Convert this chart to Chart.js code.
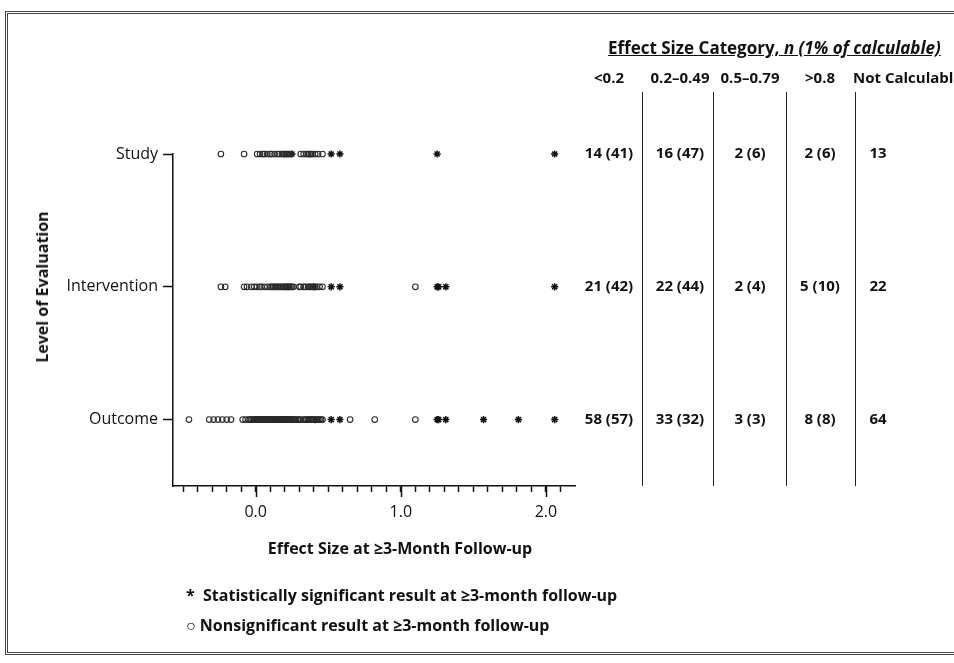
<!DOCTYPE html>
<html>
<head>
<meta charset="utf-8">
<script src="https://cdn.jsdelivr.net/npm/chart.js@4"></script>
<style>
  html, body { margin: 0; padding: 0; background: #fff; }
  body { width: 954px; height: 663px; position: relative; overflow: hidden; font-family: "Open Sans", sans-serif; color: #111; }
  #frame { position: absolute; left: 5px; top: 11px; width: 970px; height: 644px; border: 3px double #444; box-sizing: border-box; }
  #c { position: absolute; left: 0; top: 0; }
  .t { position: absolute; white-space: nowrap; font-weight: bold; font-size: 15px; line-height: 18px; }
  .vline { position: absolute; width: 0; border-left: 1.5px solid #222; }
</style>
</head>
<body>
<div id="frame"></div>
<canvas id="c" width="954" height="663"></canvas>
<div id="overlay"></div>
<script>
// rows on the y axis (1 = Outcome, 2 = Intervention, 3 = Study)
const levels = ['Outcome', 'Intervention', 'Study'];

// effect sizes
const studySig = [0.25, 0.52, 0.58, 1.25, 2.06];
const studyNonsig = [-0.24, -0.08, 0.01, 0.03, 0.05, 0.06, 0.08, 0.10, 0.11, 0.13, 0.15, 0.16, 0.18, 0.19,
  0.20, 0.21, 0.22, 0.23, 0.24, 0.31, 0.33, 0.35, 0.36, 0.37, 0.38, 0.39, 0.41, 0.43, 0.46];

const interventionSig = [0.40, 0.52, 0.58, 1.25, 1.26, 1.31, 2.06];
const interventionNonsig = [-0.24, -0.21, -0.08, -0.06, -0.03, -0.01, 0.01, 0.03, 0.04, 0.06, 0.08, 0.10, 0.11,
  0.12, 0.13, 0.14, 0.15, 0.16, 0.17, 0.18, 0.19,
  0.20, 0.21, 0.21, 0.22, 0.23, 0.23, 0.24, 0.25, 0.26, 0.30, 0.31, 0.33, 0.34, 0.36, 0.37, 0.38, 0.39,
  0.41, 0.42, 0.44, 0.46, 1.10];

const outcomeSig = [0.41, 0.52, 0.58, 1.25, 1.26, 1.31, 1.57, 1.81, 2.06];
const outcomeNonsig = [-0.46, -0.32, -0.29, -0.26, -0.23, -0.20, -0.17,
  -0.09, -0.07, -0.05, -0.04, -0.03, -0.02, -0.01, 0.00, 0.00, 0.01,
  0.01, 0.02, 0.02, 0.03, 0.03, 0.04, 0.04, 0.05, 0.05, 0.06,
  0.06, 0.07, 0.07, 0.08, 0.08, 0.09, 0.09, 0.10, 0.10, 0.10,
  0.11, 0.11, 0.12, 0.12, 0.13, 0.13, 0.14, 0.14, 0.15, 0.15,
  0.15, 0.16, 0.16, 0.17, 0.17, 0.18, 0.18, 0.19, 0.19, 0.19, 0.12,
  0.20, 0.20, 0.21, 0.21, 0.22, 0.22, 0.23, 0.23, 0.24, 0.24,
  0.25, 0.25, 0.26, 0.27, 0.29, 0.30, 0.31, 0.33, 0.34, 0.36,
  0.37, 0.38, 0.38, 0.39, 0.40, 0.42, 0.43, 0.44, 0.45, 0.46, 0.28, 0.35,
  0.65, 0.82, 1.10];

// x axis ticks
const majorTicks = [0, 1, 2];
const minorTicks = [-0.5, -0.4, -0.3, -0.2, -0.1, 0, 0.1, 0.2, 0.3, 0.4, 0.5, 0.6, 0.7, 0.8, 0.9, 1.0,
  1.1, 1.2, 1.3, 1.4, 1.5, 1.6, 1.7, 1.8, 1.9, 2.0, 2.1];

// table on the right
const categories = ['<0.2', '0.2–0.49', '0.5–0.79', '>0.8', 'Not Calculable'];
const studyN = [14, 16, 2, 2, 13];
const studyPct = [41, 47, 6, 6, null];
const interventionN = [21, 22, 2, 5, 22];
const interventionPct = [42, 44, 4, 10, null];
const outcomeN = [58, 33, 3, 8, 64];
const outcomePct = [57, 32, 3, 8, null];

const toPts = (arr, y) => arr.map(x => ({ x: x, y: y }));

const majorTickPlugin = {
  id: 'majorTicks',
  afterDraw(chart) {
    const xs = chart.scales.x;
    const ctx = chart.ctx;
    ctx.save();
    ctx.strokeStyle = '#111';
    ctx.lineWidth = 1.5;
    majorTicks.forEach(v => {
      const px = Math.round(xs.getPixelForValue(v)) + 0.5;
      ctx.beginPath();
      ctx.moveTo(px, xs.top);
      ctx.lineTo(px, xs.top + 11);
      ctx.stroke();
    });
    ctx.restore();
  }
};

const circleStyle = { pointStyle: 'circle', pointRadius: 2.8, pointBorderWidth: 1.1, pointBorderColor: '#2a2a2a', pointBackgroundColor: 'rgba(255,255,255,0)', showLine: false, clip: false };
const starStyle = { pointStyle: 'star', pointRadius: 3.6, pointBorderWidth: 1.5, pointBorderColor: '#111', pointBackgroundColor: '#111', showLine: false, clip: false };

const chart = new Chart(document.getElementById('c'), {
  type: 'scatter',
  data: {
    datasets: [
      Object.assign({ label: 'Nonsignificant', data: [].concat(toPts(studyNonsig, 3), toPts(interventionNonsig, 2), toPts(outcomeNonsig, 1)) }, circleStyle),
      Object.assign({ label: 'Significant', data: [].concat(toPts(studySig, 3), toPts(interventionSig, 2), toPts(outcomeSig, 1)) }, starStyle)
    ]
  },
  options: {
    responsive: false,
    animation: false,
    events: [],
    layout: { padding: { left: 0, top: 154, right: 379, bottom: 0 } },
    plugins: { legend: { display: false }, tooltip: { enabled: false } },
    scales: {
      x: {
        type: 'linear',
        min: -0.57,
        max: 2.2,
        afterBuildTicks: s => { s.ticks = minorTicks.map(v => ({ value: v })); },
        afterFit: s => { s.height = 663 - 486; },
        ticks: {
          autoSkip: false,
          maxRotation: 0,
          padding: 11,
          color: '#111',
          font: { family: 'Open Sans', size: 16 },
          callback: v => majorTicks.some(m => Math.abs(m - v) < 1e-6) ? v.toFixed(1) : ''
        },
        grid: { drawOnChartArea: false, tickLength: 6, tickColor: '#111', tickWidth: 1.5 },
        border: { display: true, color: '#111', width: 1.5 }
      },
      y: {
        type: 'linear',
        min: 0.5,
        max: 3,
        afterBuildTicks: s => { s.ticks = [1, 2, 3].map(v => ({ value: v })); },
        afterFit: s => { s.width = 173; },
        ticks: {
          padding: 5,
          color: '#111',
          font: { family: 'Open Sans', size: 16 },
          callback: v => levels[v - 1]
        },
        grid: { drawOnChartArea: false, tickLength: 10, tickColor: '#111', tickWidth: 1.5 },
        border: { display: true, color: '#111', width: 1.5 }
      }
    }
  },
  plugins: [majorTickPlugin]
});

// overlay text: titles, table and key
const overlay = document.getElementById('overlay');
function addText(txt, x, y, align, extra) {
  const d = document.createElement('div');
  d.className = 't';
  d.innerHTML = txt;
  let tx = align === 'center' ? '-50%' : (align === 'right' ? '-100%' : '0');
  d.style.left = x + 'px';
  d.style.top = y + 'px';
  d.style.transform = 'translate(' + tx + ',-50%)' + (extra || '');
  overlay.appendChild(d);
  return d;
}

const xs = chart.scales.x, ys = chart.scales.y;
addText('Effect Size at ≥3-Month Follow-up', 400, 548, 'center').style.fontSize = '16px';
addText('Level of Evaluation', 42, 287, 'center', ' rotate(-90deg)').style.fontSize = '16px';
addText('*&nbsp; Statistically significant result at ≥3-month follow-up', 186, 595, 'left').style.fontSize = '16px';
addText('○&nbsp;Nonsignificant result at ≥3-month follow-up', 186, 625, 'left').style.fontSize = '16px';

const head = addText('Effect Size Category, <i>n (1% of calculable)</i>', 608, 48, 'left');
head.style.fontSize = '17px';
head.style.textDecoration = 'underline';

const colCenters = [609, 680, 750, 820, 878];
categories.forEach((c, i) => {
  if (i === 4) addText(c, 853, 77, 'left');
  else addText(c, colCenters[i], 77, 'center');
});
[642, 713, 786, 855].forEach(x => {
  const l = document.createElement('div');
  l.className = 'vline';
  l.style.left = x + 'px';
  l.style.top = '92px';
  l.style.height = '394px';
  overlay.appendChild(l);
});
const rows = [[studyN, studyPct, 3], [interventionN, interventionPct, 2], [outcomeN, outcomePct, 1]];
rows.forEach(([n, pct, lv]) => {
  const y = ys.getPixelForValue(lv) - 2;
  n.forEach((v, i) => {
    const s = pct[i] === null ? String(v) : v + ' (' + pct[i] + ')';
    addText(s, colCenters[i], y, 'center');
  });
});
</script>
</body>
</html>
